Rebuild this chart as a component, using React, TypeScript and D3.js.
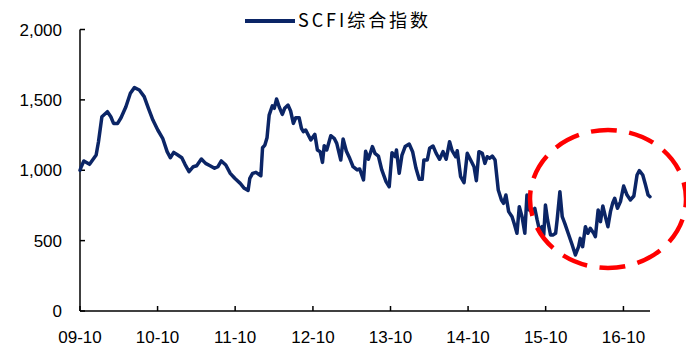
import React from "react";
import * as d3 from "d3";

// SCFI composite index, weekly-ish readings
const dates: string[] = [
  "2009-10-01", "2009-10-07", "2009-10-19", "2009-11-15", "2009-12-16", "2009-12-27",
  "2010-01-12", "2010-02-07", "2010-02-23", "2010-03-08", "2010-03-27", "2010-04-12",
  "2010-05-05", "2010-05-26", "2010-06-14", "2010-07-07", "2010-07-30", "2010-08-19",
  "2010-09-09", "2010-10-02", "2010-10-25", "2010-11-15", "2010-11-30", "2010-12-16",
  "2011-01-04", "2011-01-23", "2011-02-07", "2011-02-26", "2011-03-18", "2011-04-03",
  "2011-04-25", "2011-05-15", "2011-06-05", "2011-06-26", "2011-07-12", "2011-07-28",
  "2011-08-18", "2011-09-08", "2011-09-29", "2011-10-25", "2011-11-13", "2011-12-01",
  "2011-12-09", "2011-12-22", "2012-01-07", "2012-01-30", "2012-02-07", "2012-02-18",
  "2012-02-28", "2012-03-09", "2012-03-24", "2012-04-02", "2012-04-13", "2012-04-25",
  "2012-05-10", "2012-05-21", "2012-06-06", "2012-06-18", "2012-07-01", "2012-07-12",
  "2012-07-28", "2012-08-08", "2012-08-17", "2012-08-28", "2012-09-09", "2012-09-21",
  "2012-10-10", "2012-10-22", "2012-11-04", "2012-11-15", "2012-11-23", "2012-12-05",
  "2012-12-24", "2013-01-09", "2013-01-21", "2013-02-09", "2013-02-20", "2013-03-07",
  "2013-03-23", "2013-04-08", "2013-04-27", "2013-05-09", "2013-05-27", "2013-06-06",
  "2013-06-19", "2013-07-08", "2013-07-20", "2013-08-05", "2013-08-21", "2013-09-10",
  "2013-09-25", "2013-10-08", "2013-10-23", "2013-10-29", "2013-11-11", "2013-11-24",
  "2013-12-09", "2013-12-28", "2014-01-13", "2014-01-29", "2014-02-13", "2014-02-27",
  "2014-03-07", "2014-03-23", "2014-04-03", "2014-04-19", "2014-05-04", "2014-05-20",
  "2014-06-05", "2014-06-20", "2014-07-06", "2014-07-18", "2014-08-04", "2014-08-11",
  "2014-08-27", "2014-09-12", "2014-09-27", "2014-10-13", "2014-10-29", "2014-11-09",
  "2014-11-21", "2014-12-07", "2014-12-19", "2014-12-30", "2015-01-11", "2015-01-23",
  "2015-02-05", "2015-02-20", "2015-03-07", "2015-03-17", "2015-03-28", "2015-04-10",
  "2015-04-26", "2015-05-08", "2015-05-19", "2015-05-30", "2015-06-12", "2015-06-25",
  "2015-07-05", "2015-07-16", "2015-07-29", "2015-08-11", "2015-08-22", "2015-09-02",
  "2015-09-14", "2015-09-22", "2015-09-30", "2015-10-10", "2015-10-24", "2015-11-04",
  "2015-11-17", "2015-11-24", "2015-12-07", "2015-12-18", "2015-12-30", "2016-01-15",
  "2016-02-03", "2016-02-18", "2016-03-04", "2016-03-12", "2016-03-23", "2016-04-05",
  "2016-04-17", "2016-04-28", "2016-05-14", "2016-05-22", "2016-06-04", "2016-06-15",
  "2016-06-26", "2016-07-08", "2016-07-20", "2016-08-01", "2016-08-12", "2016-08-21",
  "2016-09-03", "2016-09-17", "2016-10-02", "2016-10-18", "2016-11-03", "2016-11-19",
  "2016-12-04", "2016-12-15", "2016-12-31", "2017-01-13", "2017-01-25", "2017-02-03",
];

const scfi: number[] = [
  1000, 1025, 1066, 1042, 1108, 1203,
  1380, 1416, 1380, 1333, 1333, 1373,
  1451, 1547, 1587, 1570, 1523, 1440,
  1357, 1286, 1227, 1132, 1089, 1127,
  1108, 1089, 1042, 990, 1025, 1032,
  1080, 1049, 1032, 1014, 1025, 1066,
  1037, 978, 943, 907, 872, 857,
  943, 978, 985, 961, 1160, 1179,
  1231, 1392, 1458, 1440, 1506, 1451,
  1397, 1440, 1463, 1421, 1333, 1373,
  1373, 1298, 1274, 1286, 1250, 1215,
  1255, 1144, 1132, 1056, 1174, 1144,
  1245, 1227, 1191, 1073, 1222, 1137,
  1085, 1025, 1002, 1009, 931, 1135,
  1078, 1168, 1120, 1101, 1002, 919,
  883, 1125, 1096, 1144, 978, 1108,
  1168, 1186, 1132, 1014, 936, 936,
  1073, 1073, 1156, 1172, 1120, 1078,
  1132, 1078, 1203, 1139, 1096, 1139,
  954, 912, 1120, 1073, 1025, 926,
  1132, 1120, 1049, 1096, 1085, 1101,
  1073, 860, 789, 765, 824, 706,
  670, 611, 552, 741, 670, 552,
  824, 718, 706, 730, 647, 575,
  599, 540, 753, 647, 540, 540,
  552, 647, 848, 670, 623, 552,
  469, 398, 457, 516, 457, 599,
  552, 588, 552, 528, 718, 635,
  746, 670, 599, 706, 770, 801,
  730, 777, 888, 824, 789, 817,
  966, 997, 966, 895, 824, 812,
];

const xTickDates: string[] = [
  "2009-10-01", "2010-10-01", "2011-10-01", "2012-10-01",
  "2013-10-01", "2014-10-01", "2015-10-01", "2016-10-01",
];
const yTicks: number[] = [0, 500, 1000, 1500, 2000];
const seriesName = "SCFI综合指数";

const W = 686;
const H = 347;
const AXIS_FONT = "'Liberation Sans', Arial, sans-serif";
const CJK_FONT = "'Noto Sans CJK SC', 'Noto Sans', sans-serif";
const NAVY = "#0b2566";

export default function App() {
  const parse = d3.utcParse("%Y-%m-%d");
  const points = dates.map((d, i) => ({ date: parse(d) as Date, value: scfi[i] }));

  const x = d3
    .scaleUtc()
    .domain([parse("2009-10-01") as Date, parse("2017-02-03") as Date])
    .range([80, 650]);
  const y = d3.scaleLinear().domain([0, 2000]).range([311, 29.5]);

  const line = d3
    .line<{ date: Date; value: number }>()
    .x((p) => x(p.date))
    .y((p) => y(p.value))
    .curve(d3.curveLinear);

  const fmtX = d3.utcFormat("%y-%m");
  const fmtY = d3.format(",");

  // highlight ellipse around the latest period
  const ell = { cx: 608, cy: 199, rx: 78, ry: 69 };

  return (
    <svg
      width={W}
      height={H}
      style={{ position: "absolute", left: 0, top: 0, background: "#fff" }}
    >
      {/* legend */}
      <line x1={245} x2={295} y1={21} y2={21} stroke={NAVY} strokeWidth={4} />
      <text
        x={298}
        y={27}
        fontFamily={CJK_FONT}
        fontSize={18}
        fill="#000"
        textLength={130}
        lengthAdjust="spacing"
      >
        {seriesName}
      </text>

      {/* y axis */}
      <line x1={80} x2={80} y1={y(2000)} y2={y(0)} stroke="#000" strokeWidth={1.5} />
      {yTicks.map((t) => (
        <g key={t}>
          <line x1={80} x2={85} y1={y(t)} y2={y(t)} stroke="#000" strokeWidth={1.5} />
          <text
            x={62}
            y={y(t) + 6}
            textAnchor="end"
            fontFamily={AXIS_FONT}
            fontSize={17}
            fill="#000"
          >
            {fmtY(t)}
          </text>
        </g>
      ))}

      {/* x axis */}
      <line x1={80} x2={650} y1={y(0)} y2={y(0)} stroke="#000" strokeWidth={1.5} />
      {xTickDates.map((s) => {
        const d = parse(s) as Date;
        const px = x(d);
        return (
          <g key={s}>
            <line x1={px} x2={px} y1={y(0)} y2={y(0) - 5} stroke="#000" strokeWidth={1.5} />
            <text
              x={px}
              y={343}
              textAnchor="middle"
              fontFamily={AXIS_FONT}
              fontSize={17}
              fill="#000"
            >
              {fmtX(d)}
            </text>
          </g>
        );
      })}

      {/* series */}
      <path
        d={line(points) || ""}
        fill="none"
        stroke={NAVY}
        strokeWidth={3.5}
        strokeLinejoin="round"
        strokeLinecap="round"
      />

      <ellipse
        cx={ell.cx}
        cy={ell.cy}
        rx={ell.rx}
        ry={ell.ry}
        fill="none"
        stroke="#ff0000"
        strokeWidth={4.5}
        strokeDasharray="26 12.5"
        strokeDashoffset={17.5}
      />
    </svg>
  );
}
